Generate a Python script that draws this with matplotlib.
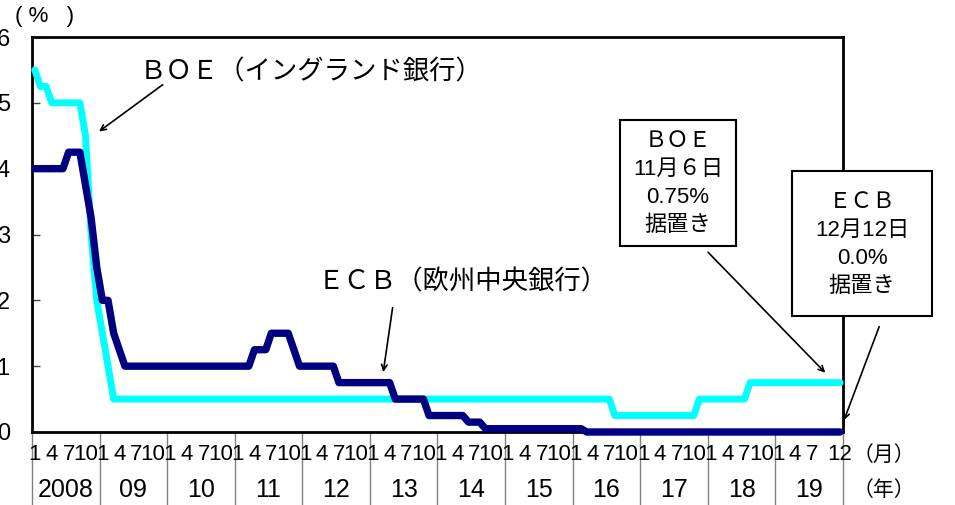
import matplotlib
matplotlib.use("Agg")
import matplotlib.pyplot as plt
import matplotlib.transforms as mtransforms
from matplotlib.patches import Rectangle

plt.rcParams['font.family'] = ['Liberation Sans', 'Noto Sans CJK JP', 'DejaVu Sans']

years = ["2008", "09", "10", "11", "12", "13", "14", "15", "16", "17", "18", "19"]
month_labels = [1, 4, 7, 10]
last_month_labels = [1, 4, 7, 12]

# policy rate by month, Jan 2008 - Dec 2019 (%)
boe = [5.5, 5.25, 5.25, 5.0, 5.0, 5.0, 5.0, 5.0, 5.0, 4.5, 3.0, 2.0,
       1.5, 1.0, 0.5, 0.5, 0.5, 0.5, 0.5, 0.5, 0.5, 0.5, 0.5, 0.5,
       0.5, 0.5, 0.5, 0.5, 0.5, 0.5, 0.5, 0.5, 0.5, 0.5, 0.5, 0.5,
       0.5, 0.5, 0.5, 0.5, 0.5, 0.5, 0.5, 0.5, 0.5, 0.5, 0.5, 0.5,
       0.5, 0.5, 0.5, 0.5, 0.5, 0.5, 0.5, 0.5, 0.5, 0.5, 0.5, 0.5,
       0.5, 0.5, 0.5, 0.5, 0.5, 0.5, 0.5, 0.5, 0.5, 0.5, 0.5, 0.5,
       0.5, 0.5, 0.5, 0.5, 0.5, 0.5, 0.5, 0.5, 0.5, 0.5, 0.5, 0.5,
       0.5, 0.5, 0.5, 0.5, 0.5, 0.5, 0.5, 0.5, 0.5, 0.5, 0.5, 0.5,
       0.5, 0.5, 0.5, 0.5, 0.5, 0.5, 0.5, 0.25, 0.25, 0.25, 0.25, 0.25,
       0.25, 0.25, 0.25, 0.25, 0.25, 0.25, 0.25, 0.25, 0.25, 0.25, 0.5, 0.5,
       0.5, 0.5, 0.5, 0.5, 0.5, 0.5, 0.5, 0.75, 0.75, 0.75, 0.75, 0.75,
       0.75, 0.75, 0.75, 0.75, 0.75, 0.75, 0.75, 0.75, 0.75, 0.75, 0.75, 0.75]

ecb = [4.0, 4.0, 4.0, 4.0, 4.0, 4.0, 4.25, 4.25, 4.25, 3.75, 3.25, 2.5,
       2.0, 2.0, 1.5, 1.25, 1.0, 1.0, 1.0, 1.0, 1.0, 1.0, 1.0, 1.0,
       1.0, 1.0, 1.0, 1.0, 1.0, 1.0, 1.0, 1.0, 1.0, 1.0, 1.0, 1.0,
       1.0, 1.0, 1.0, 1.25, 1.25, 1.25, 1.5, 1.5, 1.5, 1.5, 1.25, 1.0,
       1.0, 1.0, 1.0, 1.0, 1.0, 1.0, 0.75, 0.75, 0.75, 0.75, 0.75, 0.75,
       0.75, 0.75, 0.75, 0.75, 0.5, 0.5, 0.5, 0.5, 0.5, 0.5, 0.25, 0.25,
       0.25, 0.25, 0.25, 0.25, 0.25, 0.15, 0.15, 0.15, 0.05, 0.05, 0.05, 0.05,
       0.05, 0.05, 0.05, 0.05, 0.05, 0.05, 0.05, 0.05, 0.05, 0.05, 0.05, 0.05,
       0.05, 0.05, 0.0, 0.0, 0.0, 0.0, 0.0, 0.0, 0.0, 0.0, 0.0, 0.0,
       0.0, 0.0, 0.0, 0.0, 0.0, 0.0, 0.0, 0.0, 0.0, 0.0, 0.0, 0.0,
       0.0, 0.0, 0.0, 0.0, 0.0, 0.0, 0.0, 0.0, 0.0, 0.0, 0.0, 0.0,
       0.0, 0.0, 0.0, 0.0, 0.0, 0.0, 0.0, 0.0, 0.0, 0.0, 0.0, 0.0]

months = [i + 0.5 for i in range(len(boe))]

fig = plt.figure(figsize=(9.55, 5.05), dpi=100)
ax = fig.add_axes([32 / 955, 73 / 505, 811 / 955, 395 / 505])

ax.plot(months, boe, color="#00FFFF", lw=5, solid_capstyle="round",
        solid_joinstyle="round", zorder=3, clip_on=False)
ax.plot(months, ecb, color="#000080", lw=5.3, solid_capstyle="round",
        solid_joinstyle="round", zorder=4, clip_on=False)

ax.set_xlim(0, 12 * len(years))
ax.set_ylim(0, 6)
ax.set_yticks(range(0, 7))
ax.set_xticks([])
ax.tick_params(axis="y", direction="in", length=6, width=1, color="#404040",
               labelsize=17, pad=16)
for s in ax.spines.values():
    s.set_linewidth(2)

# month / year labels under the axis
trans = mtransforms.blended_transform_factory(ax.transData, ax.transAxes)
for k, yr in enumerate(years):
    ax.plot([12 * k, 12 * k], [0, -0.19], transform=trans, color="#808080",
            lw=1, clip_on=False)
    labs = last_month_labels if k == len(years) - 1 else month_labels
    for m in labs:
        ax.text(12 * k + m - 0.5, -0.058, str(m), transform=trans, ha="center",
                va="center", fontsize=16)
    ax.text(12 * k + 6, -0.147, yr, transform=trans, ha="center", va="center",
            fontsize=18)
ax.plot([12 * len(years)] * 2, [0, -0.19], transform=trans, color="#808080",
        lw=1, clip_on=False)

ax.text(1.012, -0.058, "（月）", transform=ax.transAxes, ha="left", va="center",
        fontsize=15)
ax.text(1.012, -0.147, "（年）", transform=ax.transAxes, ha="left", va="center",
        fontsize=15)
ax.text(-0.021, 1.053, "( %   )", transform=ax.transAxes, ha="left", va="center",
        fontsize=16, family="Liberation Sans")

# series labels
ax.text(19.2, 5.47, "ＢＯＥ（イングランド銀行）", ha="left", va="center", fontsize=19)
ax.annotate("", xy=(11.5, 4.54), xytext=(23.6, 5.30),
            arrowprops=dict(arrowstyle="->", lw=1.2, color="black"))
ax.text(50.8, 2.28, "ＥＣＢ（欧州中央銀行）", ha="left", va="center", fontsize=19)
ax.annotate("", xy=(62.3, 0.87), xytext=(64.1, 1.93),
            arrowprops=dict(arrowstyle="->", lw=1.2, color="black"))

# boxes
ax.add_patch(Rectangle((104.4, 2.83), 20.6, 1.91, facecolor="white",
                       edgecolor="black", lw=1.5, zorder=5, clip_on=False))
ax.text(114.7, 3.775, "ＢＯＥ\n11月６日\n0.75%\n据置き", ha="center", va="center",
        fontsize=16, linespacing=1.45, zorder=6)
ax.annotate("", xy=(141.2, 0.87), xytext=(119.7, 2.76),
            arrowprops=dict(arrowstyle="->", lw=1.2, color="black"), zorder=6)

ax.add_patch(Rectangle((134.9, 1.76), 24.9, 2.2, facecolor="white",
                       edgecolor="black", lw=1.5, zorder=5, clip_on=False))
ax.text(147.4, 2.85, "ＥＣＢ\n12月12日\n0.0%\n据置き", ha="center", va="center",
        fontsize=16, linespacing=1.45, zorder=6)
ax.annotate("", xy=(144.0, 0.14), xytext=(150.6, 1.64),
            arrowprops=dict(arrowstyle="->", lw=1.2, color="black"),
            annotation_clip=False, zorder=6)

fig.savefig("out.png", dpi=100)
